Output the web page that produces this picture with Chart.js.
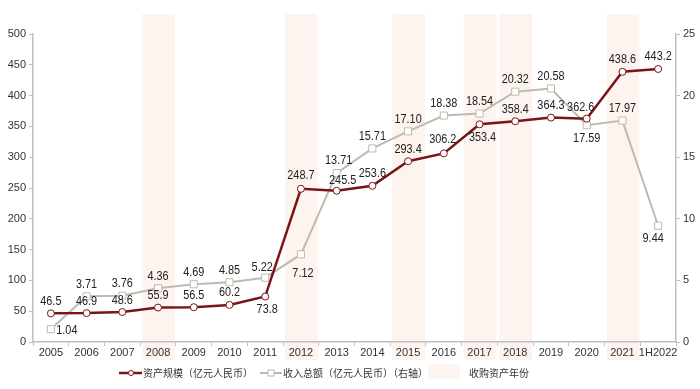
<!DOCTYPE html>
<html lang="zh">
<head>
    <meta charset="UTF-8">
    <title>资产规模与收入总额</title>
    <script src="https://cdn.jsdelivr.net/npm/chart.js"></script>
    <style>
        body {
            margin: 0;
            background: #fff;
        }
        .chart-box {
            position: relative;
            width: 700px;
            height: 389px;
        }
    </style>
</head>
<body>

    <div class="chart-box">
        <canvas id="mainChart" width="700" height="389"></canvas>
    </div>

    <script>
        // data
        const years = ['2005', '2006', '2007', '2008', '2009', '2010', '2011', '2012', '2013',
            '2014', '2015', '2016', '2017', '2018', '2019', '2020', '2021', '1H2022'];
        const assetSize = [46.5, 46.9, 48.6, 55.9, 56.5, 60.2, 73.8, 248.7, 245.5,
            253.6, 293.4, 306.2, 353.4, 358.4, 364.3, 362.6, 438.6, 443.2];
        const revenue = [1.04, 3.71, 3.76, 4.36, 4.69, 4.85, 5.22, 7.12, 13.71,
            15.71, 17.10, 18.38, 18.54, 20.32, 20.58, 17.59, 17.97, 9.44];
        const acquisitionYears = ['2008', '2012', '2015', '2017', '2018', '2021'];
        const leftTicks = [0, 50, 100, 150, 200, 250, 300, 350, 400, 450, 500];
        const rightTicks = [0, 5, 10, 15, 20, 25];

        // label placement: [dx, dy]
        const assetLabelPos = [[0, -12], [0, -12], [0, -12], [0, -12], [0, -12], [0, -12], [2, 13], [0, -13],
            [6, -10], [0, -12], [0, -12], [-1, -14], [3, 13], [0, -12], [0, -12], [-6, -11], [0, -12], [0, -12]];
        const revenueLabelPos = [[16, 1], [0, -12], [0, -12], [0, -12], [0, -12], [0, -12], [-3, -10], [2, 19],
            [2, -13], [0, -12], [0, -12], [0, -12], [0, -12], [0, -12], [0, -12], [0, 13], [0, -12], [-5, 13]];

        const RED = '#7a1416';
        const GREY = '#bcbcae';
        const BAND = '#fdf4ef';
        const TXT = '#333333';
        const AXIS = '#bfbfbf';

        const bandPlugin = {
            id: 'bands',
            beforeDraw(chart) {
                const x = chart.scales.x;
                const ctx = chart.ctx;
                const w = (x.right - x.left) / years.length;
                ctx.save();
                ctx.fillStyle = BAND;
                acquisitionYears.forEach(y => {
                    const cx = x.getPixelForValue(years.indexOf(y));
                    ctx.fillRect(cx - w / 2 + 2, 14, w - 3, 346);
                });
                ctx.restore();
            }
        };

        // labels look like a condensed face, so squeeze them a little
        function drawLabel(ctx, text, x, y) {
            ctx.save();
            ctx.translate(x, y);
            ctx.scale(0.87, 1);
            ctx.fillText(text, 0, 0);
            ctx.restore();
        }

        const labelPlugin = {
            id: 'valueLabels',
            afterDraw(chart) {
                const ctx = chart.ctx;
                ctx.save();
                ctx.font = '12.5px "Liberation Sans", Arial, sans-serif';
                ctx.fillStyle = '#222';
                ctx.textAlign = 'center';
                ctx.textBaseline = 'middle';
                const a = chart.getDatasetMeta(0).data;
                a.forEach((p, i) => {
                    drawLabel(ctx, assetSize[i].toFixed(1), p.x + assetLabelPos[i][0], p.y + assetLabelPos[i][1]);
                });
                const r = chart.getDatasetMeta(1).data;
                r.forEach((p, i) => {
                    drawLabel(ctx, revenue[i].toFixed(2), p.x + revenueLabelPos[i][0], p.y + revenueLabelPos[i][1]);
                });
                ctx.restore();
            }
        };

        const legendPlugin = {
            id: 'bottomLegend',
            afterDraw(chart) {
                const ctx = chart.ctx;
                const y = 373;
                ctx.save();
                ctx.font = '10px "Noto Sans CJK SC", sans-serif';
                ctx.textBaseline = 'middle';
                ctx.fillStyle = TXT;

                // asset size
                ctx.strokeStyle = RED;
                ctx.lineWidth = 2.5;
                ctx.beginPath(); ctx.moveTo(119, y); ctx.lineTo(142, y); ctx.stroke();
                ctx.fillStyle = '#fff';
                ctx.lineWidth = 1;
                ctx.beginPath(); ctx.arc(131, y, 2.5, 0, Math.PI * 2); ctx.fill(); ctx.stroke();
                ctx.fillStyle = TXT;
                ctx.fillText('资产规模（亿元人民币）', 143, y);

                // revenue
                ctx.strokeStyle = GREY;
                ctx.lineWidth = 2;
                ctx.beginPath(); ctx.moveTo(260, y); ctx.lineTo(282, y); ctx.stroke();
                ctx.fillStyle = '#fff';
                ctx.lineWidth = 1;
                ctx.fillRect(268, y - 3, 6, 6);
                ctx.strokeRect(268, y - 3, 6, 6);
                ctx.fillStyle = TXT;
                ctx.fillText('收入总额（亿元人民币）（右轴）', 283, y);

                // acquisition band
                ctx.fillStyle = BAND;
                ctx.fillRect(428, 364, 32, 15);
                ctx.fillStyle = TXT;
                ctx.fillText('收购资产年份', 469, y);
                ctx.restore();
            }
        };

        new Chart(document.getElementById('mainChart'), {
            type: 'line',
            data: {
                labels: years,
                datasets: [{
                    label: '资产规模（亿元人民币）',
                    data: assetSize,
                    yAxisID: 'y',
                    borderColor: RED,
                    borderWidth: 2.5,
                    pointStyle: 'circle',
                    pointRadius: 3.5,
                    pointBorderWidth: 1,
                    pointBackgroundColor: '#fff',
                    pointBorderColor: RED,
                    tension: 0,
                    order: 0
                }, {
                    label: '收入总额（亿元人民币）（右轴）',
                    data: revenue,
                    yAxisID: 'y1',
                    borderColor: GREY,
                    borderWidth: 2,
                    pointStyle: 'rect',
                    pointRadius: 5,
                    pointBorderWidth: 1,
                    pointBackgroundColor: '#fff',
                    pointBorderColor: GREY,
                    tension: 0,
                    order: 1
                }]
            },
            options: {
                responsive: false,
                animation: false,
                layout: { padding: { top: 34, left: 0, right: 0, bottom: 0 } },
                plugins: {
                    legend: { display: false },
                    tooltip: { enabled: false }
                },
                scales: {
                    x: {
                        offset: true,
                        grid: { offset: true, drawOnChartArea: false, color: AXIS, tickLength: 4 },
                        border: { color: AXIS, width: 1.5 },
                        ticks: { color: TXT, font: { size: 11, family: '"Liberation Sans", Arial' }, padding: 0, maxRotation: 0, autoSkip: false },
                        afterFit: s => { s.height = 47; }
                    },
                    y: {
                        position: 'left',
                        min: 0,
                        max: 500,
                        afterBuildTicks: s => { s.ticks = leftTicks.map(v => ({ value: v })); },
                        grid: { drawOnChartArea: false, color: AXIS, tickLength: 4 },
                        border: { color: AXIS, width: 1.5 },
                        ticks: { color: TXT, font: { size: 11, family: '"Liberation Sans", Arial' }, padding: 3 },
                        afterFit: s => { s.width = 33; }
                    },
                    y1: {
                        position: 'right',
                        min: 0,
                        max: 25,
                        afterBuildTicks: s => { s.ticks = rightTicks.map(v => ({ value: v })); },
                        grid: { drawOnChartArea: false, color: AXIS, tickLength: 4 },
                        border: { color: AXIS, width: 1.5 },
                        ticks: { color: TXT, font: { size: 11, family: '"Liberation Sans", Arial' }, padding: 3 },
                        afterFit: s => { s.width = 24; }
                    }
                }
            },
            plugins: [bandPlugin, labelPlugin, legendPlugin]
        });
    </script>
</body>
</html>
